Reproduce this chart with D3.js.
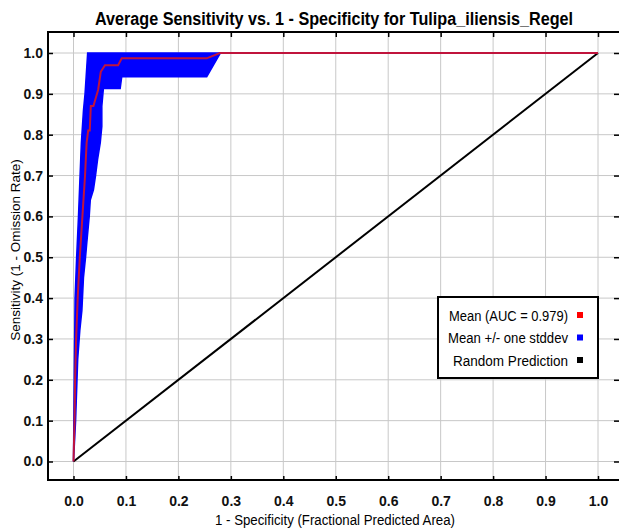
<!DOCTYPE html>
<html>
<head>
<meta charset="utf-8">
<script src="https://cdn.jsdelivr.net/npm/d3@7"></script>
<style>
  body { margin: 0; background: #fff; }
  svg { display: block; font-family: "Liberation Sans", Arial, sans-serif; }
</style>
</head>
<body>
<svg id="chart" width="619" height="531"></svg>
<script>
// values
const ticks = [0, 0.1, 0.2, 0.3, 0.4, 0.5, 0.6, 0.7, 0.8, 0.9, 1.0];

// mean curve (1 - specificity, sensitivity)
const meanX = [0, 0.002, 0.003, 0.005, 0.008, 0.012, 0.017, 0.022, 0.025, 0.028, 0.031, 0.033, 0.038, 0.047, 0.052, 0.06, 0.085, 0.092, 0.254, 0.279, 1.0];
const meanY = [0, 0.1, 0.2, 0.3, 0.4, 0.5, 0.6, 0.7, 0.78, 0.81, 0.81, 0.87, 0.87, 0.91, 0.954, 0.97, 0.97, 0.987, 0.987, 1.0, 1.0];

// mean + one stddev (left edge of band)
const upperX = [0, 0.001, 0.003, 0.006, 0.0095, 0.0125, 0.015, 0.019, 0.022, 0.025, 0.027, 0.28];
const upperY = [0, 0.15, 0.4, 0.5, 0.6, 0.7, 0.78, 0.86, 0.9, 0.96, 1.0, 1.0];

// mean - one stddev (right edge of band)
const lowerX = [0, 0.004, 0.008, 0.012, 0.016, 0.019, 0.023, 0.025, 0.030, 0.032, 0.038, 0.042, 0.046, 0.051, 0.054, 0.054, 0.057, 0.089, 0.092, 0.254, 0.28];
const lowerY = [0, 0.1, 0.25, 0.32, 0.37, 0.45, 0.5, 0.53, 0.6, 0.64, 0.665, 0.7, 0.74, 0.78, 0.82, 0.87, 0.913, 0.913, 0.942, 0.942, 1.0];

const legendLabels = ['Mean (AUC = 0.979)', 'Mean +/- one stddev', 'Random Prediction'];
const legendColors = ['#ff0000', '#0000ff', '#000000'];
const legendWidths = [119, 120, 115];

const svg = d3.select('#chart');
const frame = {left: 48, top: 32, right: 621, bottom: 480};

const x = d3.scaleLinear().domain([0, 1]).range([73.5, 598]);
const y = d3.scaleLinear().domain([0, 1]).range([461.5, 53]);

// grid
const grid = svg.append('g').attr('stroke', '#c8c8c8').attr('stroke-width', 1);
grid.selectAll('.gx').data(ticks).enter().append('line')
  .attr('x1', (d) => x(d)).attr('x2', (d) => x(d))
  .attr('y1', frame.top).attr('y2', frame.bottom);
grid.selectAll('.gy').data(ticks).enter().append('line')
  .attr('x1', frame.left).attr('x2', frame.right)
  .attr('y1', (d) => y(d)).attr('y2', (d) => y(d));

// stddev band
const bandPts = upperX.map((v, i) => [v, upperY[i]])
  .concat(lowerX.map((v, i) => [v, lowerY[i]]).reverse());
svg.append('path')
  .attr('d', d3.line().x((d) => x(d[0])).y((d) => y(d[1]))(bandPts) + 'Z')
  .attr('fill', '#0000ff')
  .attr('stroke', '#0000ff')
  .attr('stroke-width', 1.5);

// random prediction
svg.append('line')
  .attr('x1', x(0)).attr('y1', y(0))
  .attr('x2', x(1)).attr('y2', y(1))
  .attr('stroke', '#000').attr('stroke-width', 2);

// mean
svg.append('path')
  .attr('d', d3.line().x((d) => x(d)).y((d, i) => y(meanY[i]))(meanX))
  .attr('fill', 'none')
  .attr('stroke', '#c0143c')
  .attr('stroke-width', 2);

// frame
svg.append('rect')
  .attr('x', frame.left).attr('y', frame.top)
  .attr('width', frame.right - frame.left).attr('height', frame.bottom - frame.top)
  .attr('fill', 'none').attr('stroke', '#000').attr('stroke-width', 2);

// axes
const fmt = d3.format('.1f');
svg.append('g')
  .attr('transform', 'translate(0,' + frame.bottom + ')')
  .call(d3.axisBottom(x).tickValues(ticks).tickFormat(fmt).tickSizeInner(-4).tickSizeOuter(0).tickPadding(16));
svg.append('g')
  .attr('transform', 'translate(' + frame.left + ',0)')
  .call(d3.axisLeft(y).tickValues(ticks).tickFormat(fmt).tickSizeInner(-5).tickSizeOuter(0).tickPadding(5));
svg.append('g')
  .attr('transform', 'translate(0,' + frame.top + ')')
  .call(d3.axisTop(x).tickValues(ticks).tickFormat('').tickSizeInner(-5).tickSizeOuter(0));
svg.append('g')
  .attr('transform', 'translate(' + (frame.right - 2) + ',0)')
  .call(d3.axisRight(y).tickValues(ticks).tickFormat('').tickSizeInner(-5).tickSizeOuter(0));

svg.selectAll('.domain').remove();
svg.selectAll('.tick line').attr('stroke', '#000').attr('stroke-width', 1.5);
svg.selectAll('.tick text')
  .attr('font-family', '"Liberation Sans", Arial, sans-serif')
  .attr('font-size', 14)
  .attr('font-weight', 'bold')
  .attr('fill', '#111');

// titles
svg.append('text')
  .attr('x', 334).attr('y', 25)
  .attr('text-anchor', 'middle')
  .attr('font-size', 17.5).attr('font-weight', 'bold')
  .attr('textLength', 478).attr('lengthAdjust', 'spacingAndGlyphs')
  .text('Average Sensitivity vs. 1 - Specificity for Tulipa_iliensis_Regel');

svg.append('text')
  .attr('x', 335).attr('y', 525)
  .attr('text-anchor', 'middle')
  .attr('font-size', 14)
  .attr('textLength', 240).attr('lengthAdjust', 'spacingAndGlyphs')
  .text('1 - Specificity (Fractional Predicted Area)');

svg.append('text')
  .attr('transform', 'translate(20,250) rotate(-90)')
  .attr('text-anchor', 'middle')
  .attr('font-size', 13.5)
  .text('Sensitivity (1 - Omission Rate)');

// legend
const legend = svg.append('g');
legend.append('rect')
  .attr('x', 438).attr('y', 297).attr('width', 160).attr('height', 81)
  .attr('fill', '#fff').attr('stroke', '#000').attr('stroke-width', 2);
const item = legend.selectAll('.item').data(legendLabels).enter().append('g')
  .attr('transform', (d, i) => 'translate(0,' + (315 + i * 22.5) + ')');
item.append('text')
  .attr('x', 568).attr('y', 5.5)
  .attr('text-anchor', 'end')
  .attr('font-size', 14)
  .attr('textLength', (d, i) => legendWidths[i]).attr('lengthAdjust', 'spacingAndGlyphs')
  .text((d) => d);
item.append('rect')
  .attr('x', 577).attr('y', -3).attr('width', 6).attr('height', 6)
  .attr('fill', (d, i) => legendColors[i]);
</script>
</body>
</html>
